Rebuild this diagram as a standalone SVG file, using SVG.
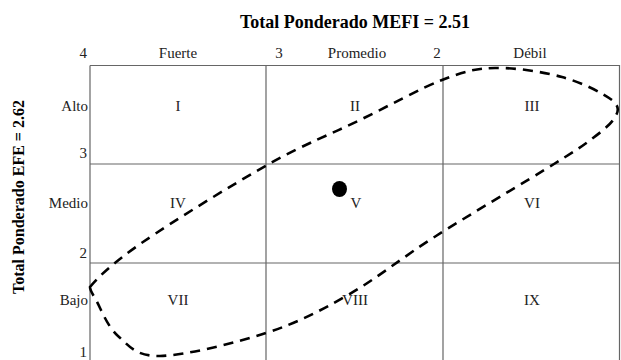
<svg xmlns="http://www.w3.org/2000/svg" width="621" height="360" viewBox="0 0 621 360">
<style>
.t{font-family:"Liberation Serif","Times New Roman",serif;fill:#222;font-size:15px}
.c{text-anchor:middle}
.r{text-anchor:end}
.b{font-weight:bold;fill:#000}
.g{stroke:#666;stroke-width:1.2;fill:none}
</style>
<rect width="621" height="360" fill="#fff"/>
<text class="t b c" x="355" y="28" style="font-size:18px">Total Ponderado MEFI = 2.51</text>
<text class="t b c" transform="translate(24,197) rotate(-90)" style="font-size:16px">Total Ponderado  EFE = 2.62</text>
<g id="grid">
<path class="g" d="M90,65.5H619.5V360M90,65.5V360M266,65.5V360M443,65.5V360M90,164H619.5M90,263H619.5"/>
</g>
<g id="axis">
<text class="t r" x="87" y="58">4</text>
<text class="t c" x="279" y="58">3</text>
<text class="t c" x="437" y="58">2</text>
<text class="t r" x="87" y="158">3</text>
<text class="t r" x="87" y="258">2</text>
<text class="t r" x="87" y="357">1</text>
<text class="t c" x="178" y="58">Fuerte</text>
<text class="t c" x="357" y="58">Promedio</text>
<text class="t c" x="530" y="58">Débil</text>
<text class="t r" x="88" y="111">Alto</text>
<text class="t r" x="88" y="208">Medio</text>
<text class="t r" x="88" y="305">Bajo</text>
</g>
<g id="cells">
<text class="t c" x="178" y="111">I</text>
<text class="t c" x="355" y="111">II</text>
<text class="t c" x="532" y="111">III</text>
<text class="t c" x="178" y="208">IV</text>
<text class="t c" x="356" y="208">V</text>
<text class="t c" x="532" y="208">VI</text>
<text class="t c" x="178" y="305">VII</text>
<text class="t c" x="355" y="305">VIII</text>
<text class="t c" x="532" y="305">IX</text>
</g>
<g id="connectors">
<path d="M90,287 C97.8,277.3 113.2,262.5 143,242 C172.8,221.5 232.8,184.3 269,164 C305.2,143.7 331.2,134 360,120 C388.8,106 419.5,88.7 442,80 C464.5,71.3 475,68.5 495,68 C515,67.5 542.5,71.7 562,77 C581.5,82.3 603,93.2 612,100 C620,106.8 618.5,111.7 615,117 C612,123 603.3,130.3 593,138 C582.7,145.7 580.2,147.7 554,164 C527.8,180.3 470.3,214.2 436,236 C401.7,257.8 376.3,278.8 348,295 C319.7,311.2 297.3,322.8 266,333 C234.7,343.2 184.7,355.5 160,356 C135.3,356.5 128.7,345.3 118,336 C107.3,326.7 100.7,308.2 96,300 C91.3,291.8 90,290 90,287 Z" fill="none" stroke="#000" stroke-width="2.6" stroke-dasharray="10,7"/>
</g>
<g id="point">
<ellipse cx="339.5" cy="189" rx="7.5" ry="8" fill="#000"/>
</g>
</svg>
